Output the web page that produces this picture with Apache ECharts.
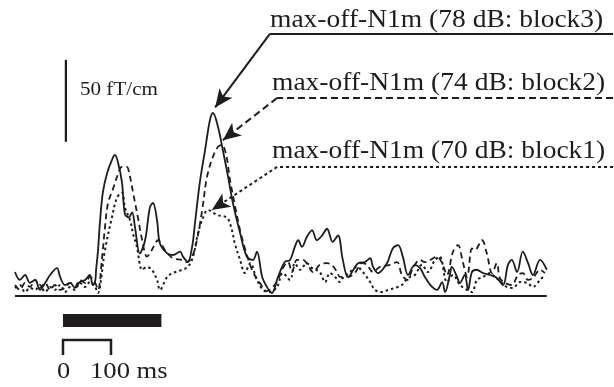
<!DOCTYPE html>
<html>
<head>
<meta charset="utf-8">
<script src="https://cdn.jsdelivr.net/npm/echarts@6/dist/echarts.min.js"></script>
<style>
  html, body { margin: 0; padding: 0; background: #fff; }
  #chart { width: 614px; height: 387px; }
</style>
</head>
<body>
<div id="chart"></div>
<script>
// time in ms (stimulus onset = 0), amplitude in fT/cm
const block3 = [
  [-100, 14.6], [-90, 9.8], [-79, 12.8], [-69, 8], [-58, 9.8], [-48, 3.7], [-37, 8], [-27, 12.8],
  [-12.5, 17], [-6, 11.6], [4, 6.7], [15, 8], [25, 4.9], [35, 8.5], [46, 9.8], [56, 12.8],
  [62, 6.7], [67, 9], [69, 16], [73, 28], [77, 45], [83, 63], [92, 75], [102, 83], [108, 86],
  [115, 81], [123, 69], [129, 50], [137, 48], [144, 51], [150, 42], [160, 26], [171, 34],
  [181, 54], [187.5, 56.7], [196, 46], [202, 32], [217, 26], [229, 25], [244, 27], [250, 24],
  [260, 20.7], [269, 30], [275, 44.5], [285, 69], [296, 89], [306, 107], [312.5, 111.6],
  [323, 103], [333, 89], [344, 72.6], [354, 56.7], [369, 38.4], [383, 24], [396, 22], [404, 27],
  [415, 11.6], [425, 5.5], [435, 1.8], [448, 11.6], [462, 20.7], [473, 22], [483, 30], [490, 34],
  [498, 30], [508, 36], [519, 40], [529, 34], [540, 37], [550, 41], [562, 33], [573, 37],
  [583, 22], [594, 11.6], [615, 20], [629, 20.7], [640, 23], [646, 17.7], [656, 14], [675, 20],
  [687, 29], [698, 31], [708, 24], [719, 12.8], [733, 19], [744, 17], [754, 11.6], [769, 5.5],
  [779, 3.7], [790, 8.5], [796, 2.4], [806, 12.8], [810, 17.7], [821, 11.6], [827, 8], [837, 12.8],
  [844, 3.7], [852, 14.6], [862, 16], [875, 14], [890, 12.8], [904, 11], [917, 6.7], [927, 19],
  [935, 22], [946, 14.6], [958, 27], [969, 20], [979, 12.8], [994, 22], [1008, 16]
];

const block2 = [
  [-100, 6.7], [-90, 3.7], [-79, 8], [-69, 5.5], [-58, 9.8], [-48, 4.9], [-37, 8], [-27, 3.7],
  [-17, 6.7], [-6, 3.7], [4, 4.9], [15, 8], [25, 5.5], [35, 9.8], [46, 8], [56, 11.6], [67, 8],
  [73, 3.7], [81, 22], [87.5, 42], [94, 57], [104, 65], [112.5, 72.6], [123, 78.7], [133, 78.7],
  [137.5, 75.6], [146, 63], [156, 48], [165, 34], [175, 24], [185, 28], [198, 34], [212.5, 28],
  [229, 23], [248, 22], [258, 20.7], [269, 24], [279, 34], [290, 52.4], [300, 72.6], [312.5, 85],
  [323, 91], [331, 92], [340, 86], [348, 70.7], [358, 55.5], [369, 40], [383, 25], [396, 14.6],
  [410, 8], [425, 3], [437.5, 5.5], [448, 9.8], [458, 17], [469, 20.7], [477, 14.6], [487.5, 22],
  [500, 22], [510, 19], [521, 14.6], [535, 19], [550, 20], [560, 19], [571, 14.6], [577, 11.6],
  [592, 11.6], [608, 14], [623, 20], [633, 19], [646, 14.6], [660, 17.7], [681, 19], [696, 20.7],
  [706, 12.8], [717, 9.8], [729, 17], [744, 22], [754, 20.7], [765, 22], [779, 24], [790, 20],
  [800, 12.8], [812.5, 27], [823, 31], [833, 20.7], [842, 11.6], [852, 29], [858, 28], [873, 34],
  [883, 26], [894, 14], [904, 20], [910, 11], [921, 8], [935, 6.7], [948, 12.8], [958, 14],
  [969, 9.8], [979, 11], [994, 16], [1004, 14]
];

const block1 = [
  [-100, 4.9], [-90, 6.7], [-79, 2.4], [-69, 4.9], [-58, 3.7], [-48, 6.7], [-37, 2.4], [-27, 5.5],
  [-17, 3.7], [-6, 6.7], [4, 2.4], [15, 5.5], [25, 3.7], [35, 8], [46, 5.5], [56, 8.5], [67, 5.5],
  [73, 1.8], [77, 5.5], [87.5, 28], [102, 48], [112.5, 60], [123, 63], [129, 54], [140, 46],
  [146, 38], [154, 30], [165, 16], [175, 17.7], [185, 16], [196, 9.8], [202, 3.7], [217, 11.6],
  [229, 14], [248, 16], [260, 17.7], [271, 24], [281, 38], [292, 48], [302, 52.4], [321, 49.4],
  [342, 47.6], [352, 40], [358, 32], [369, 22], [379, 14], [390, 20], [404, 9.8], [417, 3.7],
  [431, 2.4], [446, 5.5], [458, 14], [473, 9.8], [483, 20], [494, 16], [508, 20], [519, 17],
  [535, 14.6], [546, 8.5], [556, 14], [567, 11.6], [577, 8.5], [583, 11], [598, 14.6],
  [612.5, 17.7], [625, 14.6], [640, 8.5], [650, 3.7], [665, 2.4], [677, 3.7], [692, 4.9],
  [706, 6.7], [719, 11], [733, 12.8], [748, 19], [760, 14.6], [775, 22], [785, 24], [800, 8.5],
  [812.5, 12.8], [827, 6.7], [842, 3.7], [852, 2.4], [862.5, 9.8], [875, 11.6], [890, 14],
  [900, 11.6], [915, 8], [925, 5.5], [937.5, 4.9], [952, 8.5], [967, 8], [979, 5.5], [994, 9.8],
  [1004, 12.8]
];

const baseline = [[-100, 0], [1008, 0]];
const stimulusBar = [[0, -15], [205, -15]];
const timeScale = [[0, -36], [0, -26.8], [100, -26.8], [100, -36]];
const ampScale = [[6, 94], [6, 144]];

const labelTexts = [
  'max-off-N1m (78 dB: block3)',
  'max-off-N1m (74 dB: block2)',
  'max-off-N1m (70 dB: block1)'
];
const leaderRight = 1146;
const leaderElbow = [[431, 159.8], [446, 120.7], [446, 78.7]];
const leaderTip = [[317, 115], [333, 95], [310, 52.4]];

const INK = '#1e1c1d';
const FONT = 'Liberation Serif';
const dashes = ['solid', [7, 4], [3, 3]];

const chart = echarts.init(document.getElementById('chart'), null, { renderer: 'canvas' });

const leaderLines = [];
labelTexts.forEach((t, i) => {
  const ls = { color: INK, width: 2, type: dashes[i] };
  leaderLines.push([
    { coord: [leaderRight, leaderElbow[i][1]], symbol: 'none', lineStyle: ls },
    { coord: leaderElbow[i], symbol: 'none' }
  ]);
  leaderLines.push([
    { coord: leaderElbow[i], symbol: 'none', lineStyle: ls },
    { coord: leaderTip[i], symbol: 'arrow', symbolSize: [12, 18] }
  ]);
});

function trace(name, data, type, width) {
  return {
    name: name,
    type: 'line',
    data: data,
    showSymbol: false,
    smooth: 0.35,
    clip: false,
    lineStyle: { color: INK, width: width, type: type },
    z: 3
  };
}

function plain(data, width, extra) {
  return Object.assign({
    type: 'line',
    data: data,
    showSymbol: false,
    clip: false,
    lineStyle: { color: INK, width: width, cap: 'butt', join: 'miter' },
    z: 2
  }, extra || {});
}

function text(str, x, y, size, sx) {
  return {
    type: 'text', x: x, y: y, scaleX: sx,
    style: { text: str, fontFamily: FONT, fontSize: size, fill: INK }
  };
}

const option = {
  animation: false,
  backgroundColor: '#fff',
  grid: { left: 15, right: 0, top: 0, bottom: 0 },
  xAxis: {
    type: 'value', min: -100, max: 1148, show: false
  },
  yAxis: {
    type: 'value', min: -55.5, max: 180.5, show: false
  },
  series: [
    trace('block3', block3, 'solid', 1.8),
    trace('block2', block2, [6, 4], 1.8),
    trace('block1', block1, [2.5, 3], 2),
    plain(baseline, 2.2, {
      markLine: {
        silent: true,
        animation: false,
        symbol: ['none', 'none'],
        label: { show: false },
        emphasis: { disabled: true },
        itemStyle: { color: INK },
        data: leaderLines
      }
    }),
    plain(stimulusBar, 13),
    plain(timeScale, 2.5),
    plain(ampScale, 2.2)
  ],
  graphic: [
    text(labelTexts[0], 270, 8, 25, 1.1),
    text(labelTexts[1], 272, 71, 25, 1.1),
    text(labelTexts[2], 272, 139, 25, 1.1),
    text('50 fT/cm', 80, 81, 19, 1.11),
    text('0', 57, 360, 24, 1.1),
    text('100 ms', 90, 360, 24, 1.11)
  ]
};

chart.setOption(option);
</script>
</body>
</html>
